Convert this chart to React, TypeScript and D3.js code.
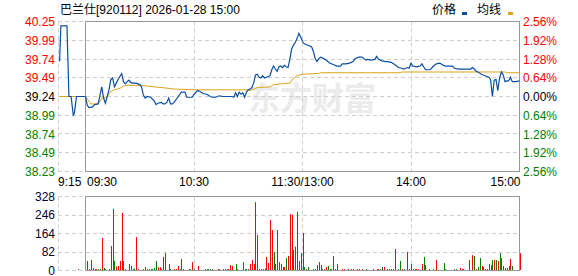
import React from "react";
import * as d3 from "d3";

const title = "巴兰仕[920112] 2026-01-28 15:00";
const legendNames = ["价格", "均线"];
const priceMax = 40.25;
const priceMin = 38.23;
const leftTicks = ["40.25", "39.99", "39.74", "39.49", "39.24", "38.99", "38.74", "38.49", "38.23"];
const rightTicks = ["2.56%", "1.92%", "1.28%", "0.64%", "0.00%", "0.64%", "1.28%", "1.92%", "2.56%"];
const volMax = 328;
const volTicks = ["328", "246", "164", "82", "0"];
const timeLabels = ["9:15", "09:30", "10:30", "11:30/13:00", "14:00", "15:00"];
const timeLabelMinutes = [0, 0, 60, 120, 180, 240];

// pre-market (minutes after 9:15)
const preMinutes = [0.6, 1.3, 4.7, 5.8, 7, 8.2, 8.8, 10, 15];
const prePrices = [39.71, 40.19, 40.19, 39.24, 39.24, 38.99, 39.01, 39.24, 39.24];
const preAvgMinutes = [0.6, 15];
const preAvgPrices = [39.24, 39.24];
const preVolMinutes = [11];
const preVolValues = [4];
const preVolSides = ["r"];

// trading session (minutes after 09:30, lunch break removed)
const mainMinutes = [
  0, 1, 2, 4, 5, 7, 8, 9, 10, 11, 12, 13, 14, 15, 16, 17, 18, 19, 20, 21, 22, 23, 24, 25, 26, 28, 30, 31, 32, 33,
  34, 36, 38, 39, 40, 42, 43, 44, 45, 46, 47, 48, 49, 51, 53, 55, 56, 58, 59, 60, 62, 63, 65, 67, 69, 70, 72, 74, 76, 79,
  81, 82, 83, 84, 85, 86, 87, 88, 89, 90, 91, 92, 93, 94, 95, 96, 97, 98, 99, 100, 102, 103, 104, 105, 106, 107, 108, 109, 110, 111,
  112, 113, 114, 115, 116, 117, 118, 119, 120, 121, 122, 123, 125, 126, 127, 128, 129, 130, 131, 133, 135, 137, 139, 141, 142, 144, 146, 148, 149, 151,
  153, 155, 156, 158, 160, 161, 162, 164, 166, 167, 169, 171, 173, 175, 176, 178, 179, 180, 181, 183, 185, 186, 187, 188, 190, 191, 192, 194, 196, 197,
  199, 202, 203, 204, 206, 208, 211, 213, 214, 215, 216, 217, 219, 221, 223, 224, 225, 226, 227, 228, 229, 230, 231, 232, 233, 234, 235, 236, 238, 240,
];
const mainPrices = [
  39.24, 39.12, 39.09, 39.10, 39.13, 39.14, 39.26, 39.37, 39.22, 39.15, 39.24, 39.33, 39.47, 39.49, 39.37, 39.42, 39.47, 39.51, 39.55, 39.44, 39.41, 39.44, 39.46, 39.43, 39.42, 39.42, 39.40, 39.37, 39.26, 39.22,
  39.24, 39.23, 39.18, 39.13, 39.15, 39.16, 39.14, 39.14, 39.16, 39.22, 39.14, 39.14, 39.16, 39.23, 39.30, 39.30, 39.23, 39.23, 39.23, 39.27, 39.32, 39.31, 39.28, 39.27, 39.24, 39.23, 39.23, 39.25, 39.24, 39.24,
  39.24, 39.23, 39.29, 39.24, 39.30, 39.27, 39.29, 39.23, 39.30, 39.33, 39.34, 39.36, 39.42, 39.53, 39.54, 39.50, 39.49, 39.52, 39.49, 39.50, 39.52, 39.60, 39.65, 39.61, 39.58, 39.64, 39.65, 39.63, 39.66, 39.64,
  39.63, 39.74, 39.88, 39.93, 39.97, 40.02, 40.09, 40.04, 39.98, 39.95, 39.94, 39.93, 39.91, 39.85, 39.75, 39.71, 39.75, 39.77, 39.76, 39.73, 39.69, 39.67, 39.65, 39.65, 39.68, 39.68, 39.69, 39.71, 39.75, 39.77,
  39.77, 39.73, 39.74, 39.73, 39.74, 39.78, 39.74, 39.72, 39.71, 39.71, 39.70, 39.67, 39.63, 39.62, 39.61, 39.63, 39.62, 39.69, 39.65, 39.64, 39.65, 39.68, 39.64, 39.60, 39.60, 39.61, 39.64, 39.68, 39.69, 39.67,
  39.65, 39.65, 39.65, 39.62, 39.61, 39.61, 39.61, 39.61, 39.63, 39.61, 39.58, 39.57, 39.54, 39.52, 39.50, 39.47, 39.24, 39.46, 39.47, 39.32, 39.49, 39.57, 39.53, 39.44, 39.45, 39.45, 39.50, 39.44, 39.44, 39.45,
];
const avgMinutes = [0, 3, 6, 8, 9, 11, 12, 14, 16, 19, 21, 23, 31, 38, 46, 49, 60, 89, 91, 95, 102, 104, 108, 113, 114, 117, 120, 129, 130, 174, 175, 232, 233, 240];
const avgPrices = [39.24, 39.14, 39.14, 39.17, 39.22, 39.23, 39.24, 39.31, 39.33, 39.35, 39.38, 39.39, 39.39, 39.37, 39.35, 39.34, 39.33, 39.33, 39.32, 39.36, 39.37, 39.40, 39.41, 39.42, 39.46, 39.52, 39.54, 39.55, 39.56, 39.56, 39.57, 39.57, 39.56, 39.56];

const volMinutes = [
  1, 2, 3, 4, 5, 6, 7, 8, 9, 10, 11, 13, 14, 15, 16, 17, 18, 19, 20, 21, 22, 24, 25, 26, 27, 28, 29, 32, 33, 34,
  35, 36, 37, 38, 39, 40, 41, 42, 43, 44, 46, 47, 49, 50, 51, 52, 53, 54, 57, 58, 59, 60, 62, 66, 67, 68, 69, 70, 73, 74,
  76, 77, 78, 79, 80, 81, 83, 84, 87, 88, 89, 90, 91, 92, 93, 94, 95, 96, 97, 98, 99, 100, 101, 102, 103, 104, 105, 106, 107, 108,
  109, 110, 111, 112, 113, 114, 115, 116, 117, 118, 119, 120, 121, 122, 123, 126, 127, 128, 129, 130, 131, 132, 133, 134, 135, 136, 137, 138, 139, 142,
  143, 145, 147, 148, 150, 151, 153, 155, 159, 161, 162, 163, 164, 165, 167, 168, 169, 170, 171, 173, 174, 175, 176, 178, 179, 180, 181, 182, 183, 184,
  186, 187, 188, 190, 192, 194, 198, 199, 204, 205, 207, 208, 209, 212, 214, 215, 216, 217, 218, 219, 220, 221, 222, 223, 224, 225, 226, 227, 228, 229,
  230, 231, 232, 233, 234, 235, 236, 240,
];
const volValues = [
  40, 4, 44, 9, 4, 4, 4, 4, 142, 9, 4, 4, 106, 270, 40, 15, 18, 40, 253, 40, 4, 27, 18, 4, 7, 146, 4, 4, 13, 4,
  4, 4, 4, 9, 40, 12, 12, 4, 58, 75, 27, 4, 4, 4, 18, 4, 49, 4, 4, 4, 35, 4, 18, 4, 4, 4, 4, 4, 4, 4,
  4, 4, 4, 4, 22, 18, 27, 4, 35, 4, 4, 4, 27, 44, 27, 301, 155, 4, 4, 4, 7, 58, 31, 222, 177, 80, 27, 177, 35, 27,
  13, 13, 53, 62, 248, 245, 89, 103, 257, 40, 75, 164, 13, 4, 13, 4, 4, 22, 35, 22, 4, 4, 13, 18, 4, 4, 62, 4, 27, 4,
  4, 4, 4, 4, 4, 4, 4, 4, 4, 4, 4, 4, 13, 13, 4, 4, 4, 4, 93, 4, 40, 4, 4, 80, 4, 27, 4, 4, 4, 4,
  27, 58, 22, 4, 4, 44, 31, 4, 4, 4, 9, 4, 4, 44, 66, 62, 4, 13, 53, 18, 13, 4, 4, 27, 22, 44, 44, 44, 40, 75,
  53, 18, 9, 9, 18, 49, 18, 75,
];
const volSides = [
  "g", "g", "r", "r", "g", "r", "g", "g", "r", "g", "g", "r", "r", "r", "g", "r", "r", "r", "r", "g", "g", "r", "g", "g", "g", "r", "r", "g", "g", "r",
  "g", "g", "g", "g", "g", "r", "r", "r", "g", "r", "r", "g", "r", "r", "r", "g", "r", "r", "g", "g", "r", "g", "r", "g", "g", "g", "g", "g", "r", "r",
  "g", "g", "g", "r", "r", "r", "g", "r", "g", "r", "g", "r", "r", "r", "r", "r", "r", "g", "g", "g", "g", "r", "r", "r", "r", "g", "r", "r", "g", "g",
  "r", "r", "g", "r", "r", "r", "r", "r", "r", "r", "g", "g", "g", "r", "g", "g", "g", "g", "r", "r", "g", "r", "r", "g", "g", "r", "g", "r", "g", "r",
  "r", "r", "r", "r", "r", "r", "r", "g", "r", "r", "r", "g", "g", "r", "g", "g", "g", "g", "g", "g", "g", "r", "g", "r", "g", "r", "r", "r", "r", "r",
  "r", "g", "g", "r", "r", "r", "g", "g", "g", "g", "r", "r", "g", "r", "r", "g", "r", "g", "g", "r", "g", "r", "r", "r", "r", "g", "r", "g", "r", "g",
  "r", "g", "r", "r", "r", "r", "g", "r",
];

const RED = "#ff0000";
const GREEN = "#008000";
const BLUE = "#0b4ea2";
const GOLD = "#dca31c";
const GRID = "#cfcfcf";
const BORDER = "#999999";
const FONT = "Arial, 'Liberation Sans', 'Noto Sans CJK SC', sans-serif";

const px = (v: number) => Math.floor(v) + 0.5;

export default function App() {
  const xPre = d3.scaleLinear().domain([0, 15]).range([58.5, 85.5]);
  const xMain = d3.scaleLinear().domain([0, 240]).range([85.5, 519.5]);
  const y = d3.scaleLinear().domain([priceMin, priceMax]).range([171.5, 21.5]);
  const yVol = d3.scaleLinear().domain([0, volMax]).range([270.5, 196.5]);

  const priceLevels = leftTicks.map((_, i) => priceMax - (i * (priceMax - priceMin)) / (leftTicks.length - 1));
  const volLevels = volTicks.map((_, i) => volMax - (i * volMax) / (volTicks.length - 1));

  const preLine = d3.line<number>().x((d, i) => xPre(preMinutes[i])).y((d) => y(d));
  const preAvgLine = d3.line<number>().x((d, i) => xPre(preAvgMinutes[i])).y((d) => y(d));
  const mainLine = d3.line<number>().x((d, i) => xMain(mainMinutes[i])).y((d) => y(d));
  const avgLine = d3.line<number>().x((d, i) => xMain(avgMinutes[i])).y((d) => y(d));

  const labelColor = (i: number, n: number) => (i < (n - 1) / 2 ? RED : i === (n - 1) / 2 ? "#000000" : GREEN);

  const vGridMinutes = [60, 120, 180];

  return (
    <div style={{ position: "absolute", left: 0, top: 0 }}>
      <svg width={578} height={276} style={{ display: "block", fontFamily: FONT }}>
        <rect x={0} y={0} width={578} height={276} fill="#ffffff" />
        {/* watermark */}
        <text x={248} y={110} fontSize={32} fontWeight="bold" fill="#ebebeb" style={{ fontFamily: "'Noto Sans CJK SC', sans-serif" }}>
          东方财富
        </text>

        {/* price panel grid */}
        {priceLevels.map((p, i) => (
          <line key={"hg" + i} x1={58} x2={519.5} y1={px(y(p))} y2={px(y(p))} stroke={GRID} strokeDasharray="4,3" />
        ))}
        <line x1={px(58.5)} x2={px(58.5)} y1={21.5} y2={171.5} stroke={GRID} strokeDasharray="4,3" />
        {vGridMinutes.map((m) => (
          <line key={"vg" + m} x1={px(xMain(m))} x2={px(xMain(m))} y1={21.5} y2={171.5} stroke={GRID} strokeDasharray="4,3" />
        ))}
        <rect x={85.5} y={21.5} width={434} height={150} fill="none" stroke={BORDER} />

        {/* volume panel grid */}
        {volLevels.map((v, i) => (
          <line key={"vh" + i} x1={58} x2={519.5} y1={px(yVol(v))} y2={px(yVol(v))} stroke={GRID} strokeDasharray="4,3" />
        ))}
        <line x1={px(58.5)} x2={px(58.5)} y1={196.5} y2={270.5} stroke={GRID} strokeDasharray="4,3" />
        {vGridMinutes.map((m) => (
          <line key={"vv" + m} x1={px(xMain(m))} x2={px(xMain(m))} y1={196.5} y2={270.5} stroke={GRID} strokeDasharray="4,3" />
        ))}
        <rect x={85.5} y={196.5} width={434} height={74} fill="none" stroke={BORDER} />

        {/* lines */}
        <path d={preAvgLine(preAvgPrices) || ""} fill="none" stroke={GOLD} strokeWidth={1} />
        <path d={avgLine(avgPrices) || ""} fill="none" stroke={GOLD} strokeWidth={1} />
        <path d={preLine(prePrices) || ""} fill="none" stroke={BLUE} strokeWidth={1.2} />
        <path d={mainLine(mainPrices) || ""} fill="none" stroke={BLUE} strokeWidth={1.2} />

        {/* volume bars */}
        {preVolValues.map((v, i) => (
          <rect key={"pv" + i} x={Math.round(xPre(preVolMinutes[i]))} y={yVol(v) - 0.5} width={1} height={270 - yVol(v) + 0.5}
            fill={preVolSides[i] === "r" ? RED : GREEN} />
        ))}
        {volValues.map((v, i) => (
          <rect key={"v" + i} x={Math.round(xMain(volMinutes[i]))} y={yVol(v) - 0.5} width={1} height={270 - yVol(v) + 0.5}
            fill={volSides[i] === "r" ? RED : GREEN} />
        ))}

        {/* left labels */}
        {leftTicks.map((t, i) => (
          <text key={"l" + i} x={55} y={y(priceLevels[i]) + 4.5} textAnchor="end" fontSize={12} fill={labelColor(i, leftTicks.length)}>
            {t}
          </text>
        ))}
        {/* right labels */}
        {rightTicks.map((t, i) => (
          <text key={"r" + i} x={523} y={y(priceLevels[i]) + 4.5} textAnchor="start" fontSize={12} fill={labelColor(i, rightTicks.length)}>
            {t}
          </text>
        ))}
        {/* volume labels */}
        {volTicks.map((t, i) => (
          <text key={"vl" + i} x={55} y={yVol(volLevels[i]) + 4} textAnchor="end" fontSize={12} fill="#000033">
            {t}
          </text>
        ))}

        {/* time labels */}
        {timeLabels.map((t, i) => {
          const isPre = i === 0;
          const xx = isPre ? xPre(timeLabelMinutes[i]) - 0.5 : xMain(timeLabelMinutes[i]);
          const anchor = i <= 1 ? "start" : i === timeLabels.length - 1 ? "end" : "middle";
          const dx = i === 1 ? 1.5 : i === timeLabels.length - 1 ? 1 : 0;
          return (
            <text key={"t" + i} x={xx + dx} y={186} textAnchor={anchor} fontSize={12} fill="#000000">
              {t}
            </text>
          );
        })}

        {/* title */}
        <text x={60} y={14} fontSize={12} fill="#000000">{title}</text>

        {/* legend */}
        <text x={432} y={14} fontSize={12} fill="#000000">{legendNames[0]}</text>
        <rect x={462} y={12} width={5} height={3} fill={BLUE} />
        <text x={477} y={14} fontSize={12} fill="#000000">{legendNames[1]}</text>
        <rect x={508} y={12} width={5} height={3} fill={GOLD} />
      </svg>
    </div>
  );
}
